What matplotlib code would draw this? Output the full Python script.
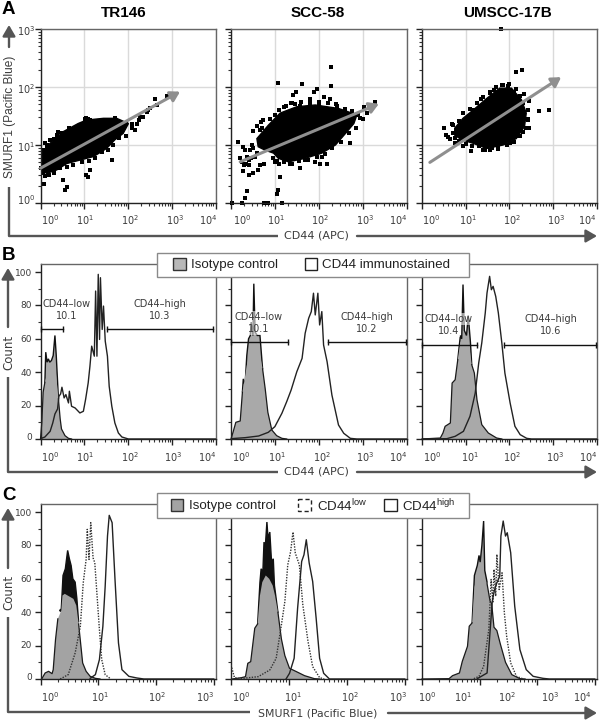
import numpy as np
import matplotlib
matplotlib.use("Agg")
import matplotlib.pyplot as plt
from matplotlib.patches import Rectangle

plt.rcParams['mathtext.default'] = 'regular'

# ---------- data (log10 decades / counts) ----------
cells = ["TR146", "SCC-58", "UMSCC-17B"]
a1_blob_x = [0,.03,.22,.52,.86,1.05,1.44,1.74,2.01,1.89,1.70,1.51,1.21,.90,.60,.37,.14,.03]
a1_blob_y = [.68,.86,1.03,1.23,1.37,1.43,1.46,1.46,1.37,1.20,1.09,.94,.80,.74,.68,.57,.51,.57]
a1_edge_x = [.05,.10,.15,.22,.30,.41,.50,.64,.75,.94,1.05,1.13,1.25,1.36,1.51,1.63,1.70,1.82,1.95,1.95,1.8,1.65,1.55,1.4,1.25,1.1,.95,.75,.6,.45,.3,.2,.1,.05,0]
a1_edge_y = [.92,1.03,.98,1.09,1.10,1.23,1.2,1.29,1.27,1.37,1.46,1.43,1.35,1.40,1.40,1.38,1.46,1.40,1.37,1.15,1.12,1.0,.92,.88,.78,.72,.70,.66,.62,.6,.52,.48,.47,.52,.6]
a1_out_x = [.09,.60,.56,.52,1.04,1.09,1.13,1.63,2.08,2.16,2.24,2.35,2.46,2.62,2.90,2.66,2.27,2.20,1.02,1.09,.37,.14,2.50,2.43,2.08]
a1_out_y = [.33,.27,.22,.39,.48,.44,.57,.75,1.29,1.26,1.43,1.49,1.60,1.80,1.84,1.69,1.48,1.37,1.44,1.45,1.17,1.0,1.63,1.57,1.36]
a1_arrow = [0.0, .60, 3.19, 1.92]

a2_blob_x = [.59,.85,1.12,1.50,1.92,2.45,2.87,2.80,2.61,2.38,2.07,1.69,1.31,1.08,.97,.78,.62]
a2_blob_y = [1.11,1.34,1.55,1.66,1.69,1.63,1.52,1.37,1.20,1.00,.86,.77,.71,.77,.86,.91,.97]
a2_edge_x = [.7,.9,1.1,1.25,1.4,1.6,1.8,2.0,2.2,2.4,2.6,2.75,2.9,3.0,2.85,2.7,2.5,2.3,2.15,1.95,1.75,1.55,1.35,1.2,1.05,.95]
a2_edge_y = [1.3,1.45,1.6,1.68,1.72,1.75,1.72,1.70,1.72,1.70,1.62,1.58,1.52,1.45,1.3,1.2,1.05,.95,.85,.8,.74,.72,.68,.7,.72,.78]
a2_out_x = [2.28,1.08,1.62,2.29,1.96,1.90,1.49,1.42,1.79,2.11,2.26,1.36,1.46,1.58,2.00,2.42,3.02,3.29,3.10,2.95,2.72,.72,.68,.59,.51,.66,.15,.28,.32,.21,.36,.46,.55,.34,.40,.66,.76,.62,.28,.41,.51,1.11,.37,1.07,1.04,.32,.02,.24,.76,.84,1.16,1.01,1.10,1.58,1.69,2.03,2.19,2.07,1.92,1.39,1.01,1.20,.43,.51,.40,.24,.30,.49,.70,.59]
a2_out_y = [2.35,2.07,2.06,2.01,1.96,1.92,1.91,1.86,1.80,1.82,1.79,1.72,1.70,1.68,1.75,1.68,1.66,1.75,1.56,1.46,1.03,1.43,1.40,1.33,1.24,1.26,1.06,.97,.91,.77,.80,.77,.80,.68,.66,.66,.67,.57,.56,.48,.52,.45,.21,.22,.16,.08,0,0,0,0,0,.70,.67,.61,.74,.68,.68,.79,.71,.68,1.52,1.65,.91,.94,.74,.71,.66,1.0,1.06,.86]
a2_arrow = [.21, .71, 3.37, 1.71]

a3_blob_x = [.75,.94,1.17,1.48,1.78,2.05,2.28,2.39,2.35,2.16,1.86,1.48,1.17,.91,.75]
a3_blob_y = [1.29,1.46,1.60,1.80,1.98,1.98,1.78,1.55,1.32,1.11,1.00,.94,1.03,1.09,1.17]
a3_edge_x = [.7,.72,.85,.95,1.1,1.25,1.4,1.55,1.7,1.85,2.0,2.1,2.25,2.32,2.42,2.42,2.38,2.25,2.1,1.95,1.75,1.6,1.45,1.3,1.15,1.0,.85,.75]
a3_edge_y = [1.2,1.35,1.42,1.55,1.62,1.72,1.82,1.9,2.0,2.03,2.05,1.92,1.85,1.72,1.6,1.45,1.3,1.15,1.05,1.0,.95,.95,.92,.98,.98,1.02,1.07,1.12]
a3_out_x = [1.82,2.15,2.30,1.84,1.97,2.16,2.33,2.45,2.68,2.91,1.35,1.19,1.55,1.65,.51,.56,.59,.69,.64,.75,.94,1.13,1.39,1.55,1.74,2.01,2.20,2.43,2.45,2.32]
a3_out_y = [3.0,2.26,2.29,2.03,2.02,1.96,1.88,1.76,1.59,1.60,1.79,1.61,1.91,1.94,1.29,1.18,1.14,1.36,1.10,1.03,.99,.90,.92,.91,.93,1.03,1.16,1.43,1.29,1.23]
a3_arrow = [.18, .70, 3.19, 2.17]

# isotype curves: *_iso_* is the grey body, *_spk_* the spikes above it
b1_iso_x = [0,.03,.06,.10,.14,.20,.27,.31,.35,.41,.45,.48,.56,.64,.71]
b1_iso_y = [0,10,28,34,38,42,42,44,40,24,12,6,2,.4,0]
b1_spk_x = [.10,.12,.15,.18,.21,.25,.29,.33,.36,.41]
b1_spk_y = [34,52,46,48,46,47,50,62,50,24]
b1_st_x = [0,.1,.22,.28,.33,.39,.42,.46,.49,.54,.58,.64,.66,.71,.79,.90,.98,1.03,1.09,1.13,1.17,1.23,1.26,1.29,1.32,1.35,1.37,1.41,1.44,1.48,1.53,1.57,1.63,1.70,1.78,1.86,2.01,4]
b1_st_y = [.2,1.2,4.6,9.6,15,18,25.5,27,31,24.6,26.6,21.6,28.6,19.6,18.6,15.6,16.6,23.6,33.6,43.6,55.6,49.6,88.6,49.6,98.6,59.6,96.6,65.6,79.6,58.6,49.6,31.6,19.6,9.6,3.6,1.2,0,0]
b2_iso_x = [0,.05,.11,.21,.26,.30,.36,.42,.55,.65,.72,.78,.84,.93,1.04,1.16,1.27]
b2_iso_y = [0,4.4,10,10.8,28,34,44,50,52,52,42,30,16,5.4,2,.4,0]
b2_spk_x = [.26,.28,.32,.36,.40,.44,.46,.50,.52,.55,.60,.66,.72]
b2_spk_y = [28,36,32,50,60,62,70,62,93,64,62,62,42]
b2_st_x = [0,.32,.63,.85,1.0,1.16,1.27,1.37,1.50,1.62,1.69,1.77,1.83,1.88,1.92,1.98,2.02,2.07,2.11,2.19,2.30,2.45,2.57,2.72,2.87,4]
b2_st_y = [.2,.8,1.8,4,7.4,15.4,22.4,29.3,40.3,48.3,63.3,72.3,76.3,87.3,74.3,87.3,68.3,76.3,56.3,46.3,26.3,8.4,3.4,.4,0,0]
b3_iso_x = [0,.42,.48,.53,.65,.69,.76,.82,.88,.94,1.02,1.08,1.14,1.20,1.26,1.37,1.52,1.71,1.83]
b3_iso_y = [0,.6,3.6,7.6,9.6,33.5,35.5,47.5,58,60,58,56,44.5,39.5,23.5,8.6,3.6,.6,0]
b3_spk_x = [.82,.88,.91,.94,.97,1.02,1.06,1.11,1.14]
b3_spk_y = [47.5,62,60,92.5,65,62,74,58,44.5]
b3_st_x = [0,.57,.76,.95,1.10,1.22,1.30,1.37,1.45,1.49,1.55,1.59,1.63,1.69,1.75,1.83,1.90,2.02,2.13,2.25,2.40,2.51,4]
b3_st_y = [0,.2,1.6,4.6,13.6,27.5,45.5,57.5,75.5,87.4,97.4,89.4,91.4,85.4,75.5,57.5,39.5,21.6,7.6,2.6,.4,0,0]
# gate: low end, high start, high end, level
b_gates = [(.51, 1.51, 3.95, 65.6), (1.31, 2.2, 3.98, 58), (1.26, 1.89, 3.99, 56.5)]
b_gate_labels = [("CD44–low", "10.1", "CD44–high", "10.3"),
                 ("CD44–low", "10.1", "CD44–high", "10.2"),
                 ("CD44–low", "10.4", "CD44–high", "10.6")]

c1_iso_x = [.02,.08,.14,.20,.22,.26,.30,.36,.38,.42,.47,.52,.57,.62,.66,.69,.73,.79,.86,.95,1.03]
c1_iso_y = [0,3.6,4.6,3.2,5.6,23.6,36,41,50,51,50,49,48,44,33,23,9.6,4.6,1.6,.4,0]
c1_spk_x = [.33,.36,.39,.43,.47,.50,.53,.56,.60,.63,.66]
c1_spk_y = [41,42,62,66,77,72,68,60,58,48,34]
c1_lo_x = [.34,.48,.60,.69,.74,.79,.81,.84,.87,.91,.94,.98,1.02,1.06,1.12,1.21]
c1_lo_y = [0,2.6,15.6,31.6,57.6,71.6,89.6,71.6,93.6,72.6,69.6,49.6,29.6,11.6,2.6,.2]
c1_hi_x = [.86,.95,1.02,1.08,1.12,1.16,1.19,1.24,1.29,1.35,1.41,1.53,1.67,1.79,3.0]
c1_hi_y = [.4,2.6,11.6,31.6,55.6,85.6,98,93.6,59.6,21.6,5.6,1.6,.6,0,0]
c2_iso_x = [.02,.18,.25,.29,.34,.41,.46,.50,.54,.60,.66,.72,.76,.81,.87,.93,1.01,1.13,1.27,1.44,1.53]
c2_iso_y = [0,.8,1.4,9.4,10.4,30.4,33,50,58,62,60,56,50,40,24,14,6.4,4.4,2,.2,0]
c2_spk_x = [.46,.50,.52,.55,.57,.59,.62,.64,.67,.70,.73,.75,.81]
c2_spk_y = [33,58,66,64,82,78,94,84,88,70,72,56,40]
c2_lo_x = [0,.06,.15,.47,.67,.78,.87,.93,.98,1.03,1.07,1.11,1.18,1.24,1.33,1.41,1.53,1.61]
c2_lo_y = [8.4,.8,.2,1.4,5.4,12.4,32.4,46.4,68.4,76.4,88,75.4,68.4,44.4,22.4,7.4,.8,0]
c2_hi_x = [.95,1.01,1.09,1.15,1.22,1.26,1.30,1.35,1.41,1.47,1.53,1.60,1.70,3.0]
c2_hi_y = [0,3.4,12.4,42.4,70.4,74.4,83.4,69.4,58.4,36.4,12.4,3.4,0,0]
c3_iso_x = [0,.47,.53,.65,.70,.79,.82,.87,.91,.96,1.0,1.04,1.08,1.13,1.18,1.21,1.25,1.30,1.36,1.45,1.56,1.70,1.79]
c3_iso_y = [0,.2,2,3.6,10.6,19.6,31.6,33.6,55,62,66,68,60,57,47,45,31,29,21,10,2.6,.2,0]
c3_spk_x = [.87,.91,.96,.99,1.01,1.04,1.07,1.09,1.13]
c3_spk_y = [33.6,62,68,74,70,80,94.6,65,58]
c3_lo_x = [.90,.99,1.07,1.16,1.20,1.23,1.25,1.28,1.30,1.34,1.39,1.43,1.47,1.54,1.64,1.76]
c3_lo_y = [.2,1.6,7.6,29.6,59.6,45.6,65.6,49.6,74.6,53.6,63.6,39.6,25.6,9.6,1.6,0]
c3_hi_x = [.96,1.13,1.22,1.26,1.30,1.35,1.37,1.41,1.45,1.48,1.54,1.61,1.70,1.81,1.93,2.10,2.21,3.0]
c3_hi_y = [.2,3.6,46.6,53.6,57.6,61.6,85.6,94.6,85.6,87.6,75.6,43.6,17.6,5.6,1.6,.4,0,0]

# ---------- layout (pixels) ----------
W, H = 600, 721
fig = plt.figure(figsize=(W/100, H/100), dpi=100, facecolor='white')
COLS = [(40.5, 215.5), (231, 406.5), (422, 596.5)]
ROWS = {'A': (29, 203), 'B': (264, 439), 'C': (504, 679)}
FR = '#666666'
TXT = '#3c3c3c'

def mkax(col, row):
    x0, x1 = COLS[col]
    y0, y1 = ROWS[row]
    ax = fig.add_axes([x0/W, 1-y1/H, (x1-x0)/W, (y1-y0)/H])
    for s in ax.spines.values():
        s.set_color(FR); s.set_linewidth(1)
    for s in ('left', 'bottom'):
        ax.spines[s].set_color('#222222')
    ax.tick_params(which='major', length=4, width=1, color='#222222', labelbottom=False, labelleft=False)
    ax.tick_params(which='minor', length=2.2, width=.8, color='#333333')
    return ax

def log_minor(n):
    return [d+np.log10(m) for d in range(n) for m in range(2, 10)]

def scatter_panel(ax, bx, by, ex, ey, ox, oy, arrow):
    ax.set_xlim(0, 4); ax.set_ylim(0, 3)
    ax.set_xticks(range(5)); ax.set_yticks(range(4))
    ax.set_xticks(log_minor(4), minor=True); ax.set_yticks(log_minor(3), minor=True)
    ax.grid(True, which='major', color='#dadada', lw=1, zorder=0)
    ax.set_axisbelow(True)
    ax.fill(bx, by, color='black', lw=1, zorder=2)
    ax.scatter(ex, ey, marker='s', s=5, color='black', lw=0, zorder=2, clip_on=False)
    ax.scatter(ox, oy, marker='s', s=5, color='black', lw=0, zorder=2, clip_on=False)
    ax.annotate('', xy=(arrow[2], arrow[3]), xytext=(arrow[0], arrow[1]), zorder=3,
                arrowprops=dict(arrowstyle='-|>,head_length=0.5,head_width=0.3', color='#8f8f8f',
                                lw=2.2, mutation_scale=11, shrinkA=0, shrinkB=0))

def hist_axes(ax, xmax, xticks, minors):
    ax.set_xlim(0, xmax); ax.set_ylim(0, 104.8)
    ax.set_xticks(xticks); ax.set_xticks(minors, minor=True)
    ax.set_yticks(range(0, 101, 20)); ax.set_yticks(range(10, 100, 20), minor=True)

def iso(ax, x, y, sx, sy, c, spike_c):
    ax.fill(sx, sy, facecolor=spike_c, edgecolor='#111111', lw=1, zorder=2, clip_on=False)
    ax.fill(x, y, facecolor=c, edgecolor='none', zorder=2.1, clip_on=False)
    xa, ya = np.array(x), np.array(y)
    left = xa <= sx[0]
    right = xa >= sx[-1]
    ax.plot(xa[left], ya[left], color='#1a1a1a', lw=.9, zorder=2.2, clip_on=False)
    ax.plot(xa[right], ya[right], color='#1a1a1a', lw=.9, zorder=2.2, clip_on=False)

scatter_panel(mkax(0, 'A'), a1_blob_x, a1_blob_y, a1_edge_x, a1_edge_y, a1_out_x, a1_out_y, a1_arrow)
scatter_panel(mkax(1, 'A'), a2_blob_x, a2_blob_y, a2_edge_x, a2_edge_y, a2_out_x, a2_out_y, a2_arrow)
scatter_panel(mkax(2, 'A'), a3_blob_x, a3_blob_y, a3_edge_x, a3_edge_y, a3_out_x, a3_out_y, a3_arrow)

b_iso = [(b1_iso_x, b1_iso_y, b1_spk_x, b1_spk_y), (b2_iso_x, b2_iso_y, b2_spk_x, b2_spk_y), (b3_iso_x, b3_iso_y, b3_spk_x, b3_spk_y)]
b_st = [(b1_st_x, b1_st_y), (b2_st_x, b2_st_y), (b3_st_x, b3_st_y)]
b_text_x = [(.60, 2.73), (.62, 3.1), (.61, 2.95)]
b_text_y = [(80.6, 73.6), (73, 66), (72, 64.5)]
for i in range(3):
    ax = mkax(i, 'B')
    hist_axes(ax, 4, range(5), log_minor(4))
    iso(ax, *b_iso[i], '#a9a9a9', '#a9a9a9')
    ax.plot(*b_st[i], color='#222222', lw=1, zorder=3)
    lo, hs, he, lev = b_gates[i]
    ax.plot([0, lo], [lev, lev], color='#111111', lw=1, marker='|', ms=5, mew=1, zorder=4, clip_on=False)
    ax.plot([hs, he], [lev, lev], color='#111111', lw=1, marker='|', ms=5, mew=1, zorder=4, clip_on=False)
    lab = b_gate_labels[i]
    bbox = dict(facecolor='white', alpha=.55, edgecolor='none', pad=.6)
    for xc, (a, b) in zip(b_text_x[i], ((lab[0], lab[1]), (lab[2], lab[3]))):
        ax.text(xc, b_text_y[i][0], a, ha='center', va='center', fontsize=7, color=TXT, bbox=bbox, zorder=5)
        ax.text(xc, b_text_y[i][1], b, ha='center', va='center', fontsize=7, color=TXT, bbox=bbox, zorder=5)

c_iso = [(c1_iso_x, c1_iso_y, c1_spk_x, c1_spk_y), (c2_iso_x, c2_iso_y, c2_spk_x, c2_spk_y), (c3_iso_x, c3_iso_y, c3_spk_x, c3_spk_y)]
c_lo = [(c1_lo_x, c1_lo_y), (c2_lo_x, c2_lo_y), (c3_lo_x, c3_lo_y)]
c_hi = [(c1_hi_x, c1_hi_y), (c2_hi_x, c2_hi_y), (c3_hi_x, c3_hi_y)]
c_spike = ['#111111', '#111111', '#a3a3a3']
for i in range(3):
    ax = mkax(i, 'C')
    hist_axes(ax, 3.03, range(4), log_minor(3))
    iso(ax, *c_iso[i], '#a3a3a3', c_spike[i])
    ax.plot(*c_lo[i], color='#333333', lw=1, ls=(0, (1, 1)), zorder=3)
    ax.plot(*c_hi[i], color='#222222', lw=1, zorder=4)

# ---------- overlay in pixel coordinates ----------
ov = fig.add_axes([0, 0, 1, 1], zorder=10)
ov.set_xlim(0, W); ov.set_ylim(H, 0); ov.axis('off')
ov.patch.set_alpha(0)

def exp_label(x, y, e, ha='center'):
    ov.text(x, y, r'$10^{%d}$' % e, ha=ha, va='center', fontsize=7, color=TXT)

tick_a = [[50, 85, 130, 175, 208], [242, 276, 320, 365, 398], [431, 468, 512, 556, 587]]
tick_b = [[50, 85, 130, 173, 207], [241, 277, 322, 365, 398], [432, 470, 512, 555, 588]]
tick_c = [[50, 100, 157, 205], [241, 293, 350, 398], [427, 463, 507, 550, 582]]
for rowv, yy in ((tick_a, 220), (tick_b, 457), (tick_c, 697)):
    for r in rowv:
        for e, x in enumerate(r):
            exp_label(x, yy, e)
for e, y in zip(range(3, -1, -1), (31, 89, 147, 200)):
    exp_label(26, y, e)
for base in (0, 240):
    for v, y in zip((100, 80, 60, 40, 20, 0), (273, 306, 340, 373, 406, 437)):
        ov.text(32, y+base, str(v), ha='right', va='center', fontsize=6.5, color=TXT)

for t, x in zip(cells, (124, 318, 508)):
    ov.text(x, 13, t, ha='center', va='center', fontsize=11, fontweight='bold',
            family='Liberation Sans', color='black')
for t, y in zip('ABC', (10, 256, 495)):
    ov.text(2, y, t, ha='left', va='center', fontsize=13.5, fontweight='bold',
            family='Liberation Sans', color='black')

AX = '#555555'
def line(xs, ys):
    ov.plot(xs, ys, color=AX, lw=1.7, solid_capstyle='butt')
def arr(x0, y0, x1, y1):
    ov.annotate('', xy=(x1, y1), xytext=(x0, y0),
                arrowprops=dict(arrowstyle='-|>,head_length=0.6,head_width=0.35', color=AX, lw=1.7,
                                mutation_scale=11, shrinkA=0, shrinkB=0))

# panel A frame
line([9, 9, 278], [187, 236, 236]); arr(357, 236, 597, 236); arr(9, 47, 9, 25)
ov.text(316.5, 236, 'CD44 (APC)', ha='center', va='center', fontsize=8, color=TXT)
ov.text(10, 117, 'SMURF1 (Pacific Blue)', rotation=90, ha='center', va='center', fontsize=8.6,
        family='Liberation Sans', color=TXT)
# panel B frame
line([8, 8, 278], [377, 472, 472]); arr(357, 472, 597, 472); arr(8, 327, 8, 268)
ov.text(316.5, 472, 'CD44 (APC)', ha='center', va='center', fontsize=8, color=TXT)
ov.text(9, 352, 'Count', rotation=90, ha='center', va='center', fontsize=8.5, color=TXT)
# panel C frame
line([8, 8, 250], [617, 712, 712]); arr(388, 713, 597, 713); arr(8, 568, 8, 508)
ov.text(318, 713, 'SMURF1 (Pacific Blue)', ha='center', va='center', fontsize=7.8, color=TXT)
ov.text(9, 592, 'Count', rotation=90, ha='center', va='center', fontsize=8.5, color=TXT)

# legends
def box(x0, y0, x1, y1, **kw):
    ov.add_patch(Rectangle((x0, y0), x1-x0, y1-y0, **kw))
def ltext(x, y, s):
    ov.text(x, y, s, ha='left', va='center', fontsize=9.6, family='Liberation Sans', color='#222222')

box(157, 253, 469, 277, fc='white', ec='#8a8a8a', lw=1)
box(173, 258, 186, 270, fc='#b8b8b8', ec='#333333', lw=1)
ltext(191, 265, 'Isotype control')
box(305, 258, 317, 270, fc='white', ec='#222222', lw=1)
ltext(322, 265, 'CD44 immunostained')

box(157, 493, 469, 518, fc='white', ec='#8a8a8a', lw=1)
box(171, 499, 183, 511, fc='#a3a3a3', ec='#333333', lw=1)
ltext(189, 506, 'Isotype control')
box(298, 499, 311, 511, fc='white', ec='#222222', lw=1, ls=(0, (3, 2)))
ltext(317, 506, r'CD44$^{low}$')
box(384, 499, 397, 511, fc='white', ec='#222222', lw=1)
ltext(402, 506, r'CD44$^{high}$')

fig.savefig('out.png', dpi=100)
